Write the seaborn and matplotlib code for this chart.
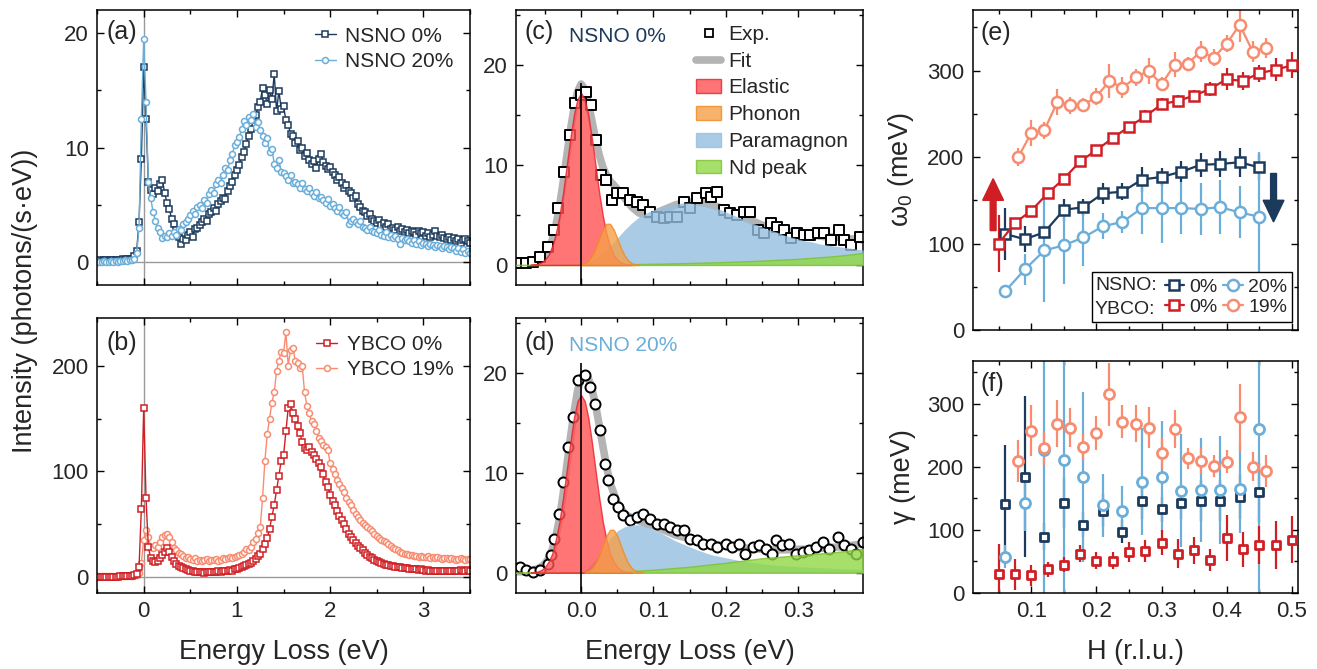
import numpy as np
import matplotlib
matplotlib.use("Agg")
import matplotlib.pyplot as plt
import seaborn as sns
from matplotlib.lines import Line2D
from matplotlib.patches import Patch, Rectangle
from matplotlib.ticker import MultipleLocator

# ---------------- colours ----------------
C_N0 = "#1b3a5c"
C_N20 = "#6aaed9"
C_Y0 = "#cf1f25"
C_Y19 = "#f88c70"
C_FIT = "#b4b4b4"
C_EL, C_PH, C_PM, C_ND = "#ff5252", "#f5a04a", "#94bfe0", "#90d844"

# ---------------- panel (a), (b): full spectra, 0.025 eV grid from -0.5 eV ----------------
E_START, E_STEP = -0.5, 0.025
nsno0 = [0.1, 0.15, 0.1, 0.2, 0.15, 0.1, 0.2, 0.15, 0.2, 0.1,
         0.2, 0.25, 0.2, 0.3, 0.25, 0.3, 0.5, 1.0, 3.5, 9.0,
         17.0, 12.5, 7.0, 6.3, 5.9, 6.5, 6.2, 6.8, 7.2, 6.0,
         5.2, 4.6, 3.8, 3.3, 2.8, 2.2, 1.6, 2.0, 1.9, 2.4,
         2.6, 2.2, 2.9, 3.0, 3.2, 3.5, 3.8, 3.6, 4.2, 4.4,
         4.7, 4.5, 5.1, 5.3, 5.6, 5.5, 6.2, 6.6, 7.0, 7.6,
         8.0, 8.5, 9.2, 9.6, 10.3, 11.0, 11.6, 12.4, 12.8, 13.5,
         14.0, 15.2, 14.6, 13.8, 15.0, 14.2, 16.4, 13.2, 14.9, 13.4,
         13.6, 12.4, 12.0, 11.2, 11.0, 10.4, 10.6, 9.8, 10.0, 9.3,
         9.5, 8.9, 8.6, 8.8, 8.2, 9.0, 9.4, 8.7, 8.4, 8.1,
         8.3, 7.9, 7.6, 7.2, 7.4, 6.9, 6.5, 6.7, 6.2, 6.0,
         5.6, 5.8, 5.1, 4.8, 4.5, 4.4, 4.0, 4.2, 3.8, 3.6,
         3.4, 3.7, 3.2, 3.4, 3.1, 3.3, 2.9, 3.0, 2.8, 3.1,
         2.7, 2.9, 2.6, 2.8, 2.5, 2.7, 2.6, 2.4, 2.7, 2.5,
         2.6, 2.3, 2.5, 2.2, 2.4, 2.7, 2.3, 2.2, 2.4, 2.1,
         2.0, 2.2, 1.9, 2.1, 1.8, 2.0, 1.7, 1.9, 2.0, 1.8,
         1.7]
nsno20 = [0.0, 0.05, 0.0, 0.1, 0.05, 0.0, 0.1, 0.05, 0.1, 0.05,
          0.1, 0.1, 0.15, 0.1, 0.2, 0.2, 0.3, 0.8, 3.0, 12.5,
          19.5, 14.0, 7.0, 5.6, 4.4, 3.6, 3.0, 2.6, 2.1, 2.3,
          2.2, 2.5, 2.3, 2.6, 2.4, 2.9, 2.8, 3.3, 3.5, 3.8,
          4.1, 4.5, 4.2, 4.8, 5.0, 4.7, 5.4, 5.2, 5.9, 6.3,
          6.0, 6.8, 7.2, 6.9, 7.6, 8.2, 8.0, 8.9, 9.4, 10.2,
          10.5, 10.9, 11.6, 12.3, 12.0, 12.7, 12.4, 12.9, 11.8, 12.2,
          11.5, 11.0, 10.4, 10.8, 9.6, 9.9, 8.6, 8.2, 8.9, 7.9,
          7.8, 7.5, 7.2, 7.6, 6.9, 7.0, 6.8, 6.5, 6.9, 6.4,
          6.2, 6.5, 6.0, 5.8, 6.1, 5.6, 5.7, 5.4, 5.2, 5.5,
          4.9, 5.1, 4.7, 4.5, 4.8, 4.3, 4.1, 4.4, 3.3, 3.6,
          3.8, 3.5, 3.3, 3.6, 3.1, 3.0, 2.8, 3.1, 2.7, 2.6,
          2.5, 2.8, 2.4, 2.3, 2.6, 2.2, 2.4, 2.1, 2.3, 2.0,
          1.6, 2.1, 1.9, 2.0, 1.8, 1.7, 1.9, 1.6, 1.8, 1.5,
          1.7, 1.6, 1.4, 1.6, 1.5, 1.3, 1.5, 1.4, 1.2, 1.4,
          1.3, 1.1, 1.3, 1.2, 1.0, 1.2, 0.9, 1.1, 0.8, 1.0,
          0.8]
ybco0 = [0.3, 0.3, 0.3, 0.3, 0.3, 0.3, 0.3, 0.3, 0.3, 0.3,
         0.5, 0.5, 0.5, 0.8, 0.8, 1.0, 1.5, 3.0, 9.0, 64.0,
         160, 75, 28, 18, 15, 14, 15, 18, 21, 24,
         27, 24, 19, 15, 12, 10, 9, 8, 7, 6.5,
         6, 5.5, 5, 4.5, 5, 4.5, 4, 4.5, 5, 4.5,
         5, 5, 5.5, 5, 6, 5.5, 6, 6.5, 6, 7,
         7, 8, 9, 10, 11, 12, 13, 15, 17, 20,
         22, 26, 31, 37, 45, 57, 68, 82, 96, 110,
         115, 138, 160, 164, 155, 150, 143, 136, 128, 122,
         120, 123, 118, 115, 112, 108, 104, 97, 90, 85,
         78, 72, 68, 62, 58, 54, 50, 45, 41, 38,
         35, 32, 29, 27, 25, 23, 21, 19, 18, 16,
         15, 14, 13, 12, 11.5, 11, 10.5, 10, 9.5, 9,
         9, 8.5, 8, 8, 7.5, 7.5, 7, 7, 6.5, 7,
         6.5, 6, 6.5, 6, 6, 5.5, 6, 6, 5.5, 6,
         6, 5.5, 6, 6, 5.5, 6, 6.5, 6, 6, 6.5,
         6]
ybco19 = [0.5, 0.5, 0.5, 0.5, 0.5, 0.5, 0.5, 0.5, 0.5, 0.5,
          0.5, 0.5, 0.5, 0.5, 1, 1, 1.5, 2, 4, 13,
          35, 44, 38, 28, 27, 30, 28, 33, 38, 40,
          41, 38, 33, 27, 25, 23, 22, 20, 18, 19,
          17, 16, 18, 15, 16, 15, 16, 17, 15, 16,
          16, 17, 15, 16, 18, 17, 18, 19, 18, 19,
          20, 21, 22, 24, 26, 25, 28, 33, 36, 42,
          47, 75, 110, 135, 150, 165, 175, 195, 205, 213,
          212, 232, 200, 215, 217, 205, 203, 198, 200, 175,
          162, 155, 148, 145, 138, 132, 129, 125, 123, 120,
          108, 102, 97, 92, 88, 84, 80, 75, 71, 68,
          63, 60, 57, 54, 51, 49, 47, 45, 43, 41,
          39, 37, 35, 34, 33, 31, 29, 27, 26, 25,
          24, 23, 22, 22, 21, 21, 20, 20, 19, 20,
          19, 19, 20, 18, 19, 18, 19, 18, 17, 18,
          18, 17, 18, 17, 16, 17, 18, 17, 16, 17,
          17]

# ---------------- panel (c): NSNO 0% fit ----------------
c_E = [-0.085, -0.076, -0.067, -0.057, -0.046, -0.037, -0.032, -0.023, -0.016, -0.009,
       0.0, 0.007, 0.014, 0.021, 0.028, 0.035, 0.042, 0.049, 0.058, 0.068,
       0.077, 0.086, 0.095, 0.105, 0.114, 0.123, 0.132, 0.142, 0.151, 0.160,
       0.172, 0.179, 0.188, 0.197, 0.206, 0.216, 0.225, 0.234, 0.244, 0.253,
       0.262, 0.271, 0.281, 0.290, 0.299, 0.308, 0.317, 0.327, 0.336, 0.345,
       0.357, 0.364, 0.373, 0.385]
c_I = [0.2, 0.2, 0.3, 0.8, 1.8, 3.5, 5.7, 9.3, 13.0, 16.2,
       17.0, 17.3, 16.0, 12.5, 9.0, 8.5, 6.5, 7.2, 7.2, 6.5,
       6.3, 6.0, 5.3, 4.8, 4.7, 4.8, 4.8, 6.3, 5.7, 6.7,
       7.2, 6.8, 7.3, 5.5, 5.2, 5.0, 5.3, 5.3, 3.5, 3.2,
       4.2, 3.8, 3.5, 2.7, 3.2, 3.0, 3.0, 3.2, 3.2, 2.5,
       3.5, 2.5, 2.0, 2.8]
fit_x = [-0.09, -0.08, -0.07, -0.06,
         -0.055, -0.05, -0.045, -0.04, -0.035, -0.03, -0.025, -0.02, -0.015, -0.01,
         -0.005, 0.0, 0.005, 0.01, 0.015, 0.02, 0.025, 0.03, 0.035, 0.04,
         0.05, 0.06, 0.07, 0.08, 0.09, 0.10, 0.11, 0.12, 0.13, 0.14,
         0.15, 0.16, 0.17, 0.18, 0.19, 0.20, 0.21, 0.22, 0.23, 0.24,
         0.25, 0.26, 0.27, 0.28, 0.29, 0.30, 0.31, 0.32, 0.33, 0.34,
         0.35, 0.36, 0.37, 0.38, 0.39]
fit_c = [0.1, 0.1, 0.2, 0.4,
         0.6, 0.9, 1.5, 2.5, 3.9, 5.8, 8.2, 10.8, 13.4, 15.6,
         17.3, 18.1, 17.6, 16.2, 14.4, 12.6, 11.0, 9.8, 9.0, 8.4,
         7.6, 6.7, 5.8, 5.2, 5.0, 5.1, 5.4, 5.7, 6.0, 6.2,
         6.3, 6.3, 6.2, 6.0, 5.8, 5.5, 5.2, 4.9, 4.6, 4.3,
         4.0, 3.8, 3.6, 3.4, 3.3, 3.2, 3.1, 3.0, 2.9, 2.8,
         2.8, 2.7, 2.6, 2.6, 2.5]
el_x = [-0.07, -0.06, -0.055, -0.05, -0.045, -0.04, -0.035, -0.03, -0.025, -0.02,
        -0.015, -0.01, -0.005, 0.0, 0.005, 0.01, 0.015, 0.02, 0.025, 0.03,
        0.035, 0.04, 0.045, 0.05, 0.055, 0.06, 0.07]
el_c = [0.02, 0.12, 0.26, 0.54, 1.0, 1.9, 3.1, 4.9, 7.2, 9.9,
        12.6, 15.0, 16.6, 17.2, 16.6, 15.0, 12.6, 9.9, 7.2, 4.9,
        3.1, 1.9, 1.0, 0.54, 0.26, 0.12, 0.02]
ph_c_x = [0.0, 0.005, 0.01, 0.015, 0.02, 0.025, 0.03, 0.035, 0.04, 0.045,
          0.05, 0.055, 0.06, 0.065, 0.07, 0.075, 0.08]
ph_c = [0.07, 0.18, 0.45, 0.94, 1.7, 2.65, 3.56, 4.12, 4.12, 3.56,
        2.65, 1.7, 0.94, 0.45, 0.18, 0.07, 0.02]
pm_c_x = [0.0, 0.01, 0.02, 0.03, 0.04, 0.05, 0.06, 0.07, 0.08, 0.09,
          0.10, 0.11, 0.12, 0.13, 0.14, 0.15, 0.16, 0.17, 0.18, 0.19,
          0.20, 0.21, 0.22, 0.23, 0.24, 0.25, 0.26, 0.27, 0.28, 0.29,
          0.30, 0.31, 0.32, 0.33, 0.34, 0.35, 0.36, 0.37, 0.38, 0.39]
pm_c = [0.0, 0.3, 0.7, 1.2, 1.9, 2.7, 3.5, 4.2, 4.8, 5.2,
        5.5, 5.8, 6.0, 6.1, 6.2, 6.2, 6.1, 6.0, 5.8, 5.6,
        5.3, 5.0, 4.7, 4.4, 4.1, 3.8, 3.5, 3.3, 3.0, 2.8,
        2.6, 2.4, 2.3, 2.1, 2.0, 1.9, 1.8, 1.7, 1.6, 1.5]
nd_x = [-0.09, 0.0, 0.05, 0.10, 0.15, 0.20, 0.25, 0.30, 0.35, 0.39]
nd_c = [0.0, 0.02, 0.06, 0.12, 0.2, 0.3, 0.44, 0.62, 0.88, 1.2]

# ---------------- panel (d): NSNO 20% fit ----------------
d_E = [-0.085, -0.076, -0.067, -0.057, -0.046, -0.041, -0.037, -0.031, -0.025, -0.018,
       -0.011, -0.004, 0.005, 0.012, 0.019, 0.026, 0.033, 0.037, 0.044, 0.051,
       0.058, 0.068, 0.077, 0.086, 0.095, 0.105, 0.114, 0.123, 0.132, 0.142,
       0.151, 0.160, 0.169, 0.179, 0.188, 0.200, 0.209, 0.218, 0.227, 0.237,
       0.246, 0.255, 0.264, 0.269, 0.278, 0.287, 0.297, 0.306, 0.315, 0.325,
       0.334, 0.343, 0.355, 0.364, 0.373, 0.380, 0.389]
d_I = [0.6, 0.3, 0.1, 0.3, 0.9, 1.8, 3.4, 5.9, 9.1, 12.6,
       15.6, 19.3, 19.8, 18.6, 16.9, 14.3, 10.9, 9.3, 7.4, 6.6,
       5.8, 5.3, 5.6, 5.9, 5.4, 4.9, 4.9, 4.6, 4.3, 4.3,
       3.4, 3.3, 2.9, 2.9, 2.6, 2.9, 2.6, 2.9, 1.9, 2.6,
       2.8, 2.4, 1.9, 3.3, 2.8, 2.9, 1.9, 2.1, 2.3, 2.6,
       3.1, 2.4, 3.6, 2.8, 2.4, 1.9, 3.1]
fit_d = [0.1, 0.1, 0.2, 0.4,
         0.6, 0.9, 1.4, 2.3, 3.6, 5.4, 7.8, 10.6, 13.4, 16.0,
         18.2, 19.5, 19.9, 19.5, 18.4, 16.8, 14.8, 12.7, 10.7, 9.0,
         7.0, 5.9, 5.5, 5.2, 4.9, 4.7, 4.4, 4.1, 3.8, 3.6,
         3.4, 3.2, 3.0, 2.9, 2.8, 2.7, 2.6, 2.5, 2.45, 2.4,
         2.35, 2.3, 2.3, 2.3, 2.3, 2.35, 2.35, 2.4, 2.45, 2.5,
         2.55, 2.6, 2.7, 2.8, 2.9]
el_d = [0.02, 0.12, 0.27, 0.56, 1.1, 1.9, 3.3, 5.1, 7.5, 10.2,
        13.0, 15.5, 17.2, 17.8, 17.2, 15.5, 13.0, 10.2, 7.5, 5.1,
        3.3, 1.9, 1.1, 0.56, 0.27, 0.12, 0.02]
ph_d_x = [0.005, 0.01, 0.015, 0.02, 0.025, 0.03, 0.035, 0.04, 0.045, 0.05,
          0.055, 0.06, 0.065, 0.07, 0.075, 0.08, 0.085]
ph_d = [0.07, 0.18, 0.46, 0.97, 1.75, 2.7, 3.7, 4.3, 4.3, 3.7,
        2.7, 1.75, 0.97, 0.46, 0.18, 0.07, 0.02]
pm_d_x = [0.0, 0.01, 0.02, 0.03, 0.04, 0.05, 0.06, 0.07, 0.08, 0.09,
          0.10, 0.11, 0.12, 0.13, 0.14, 0.15, 0.16, 0.18, 0.20, 0.22,
          0.24, 0.26, 0.28, 0.30, 0.33, 0.36, 0.39]
pm_d = [0.0, 0.5, 1.3, 2.3, 3.4, 4.2, 4.6, 4.8, 4.8, 4.6,
        4.3, 4.0, 3.6, 3.2, 2.9, 2.6, 2.3, 1.8, 1.5, 1.2,
        1.0, 0.8, 0.7, 0.6, 0.5, 0.4, 0.35]
nd_d = [0.0, 0.02, 0.1, 0.3, 0.6, 1.0, 1.45, 1.75, 2.05, 2.4]

# ---------------- panels (e), (f): fitted parameters vs H ----------------
H_nsno = [0.06, 0.09, 0.12, 0.15, 0.18, 0.21, 0.24, 0.27, 0.30, 0.33, 0.36, 0.39, 0.42, 0.45]
w_n0 = [111, 105, 113, 139, 142, 158, 160, 174, 177, 183, 191, 192, 194, 188]
w_n0_err = [30, 15, 8, 13, 10, 12, 10, 14, 10, 12, 14, 15, 17, 15]
w_n20 = [45, 70, 92, 98, 107, 120, 125, 141, 141, 141, 140, 142, 136, 131]
w_n20_err = [6, 18, 60, 45, 33, 15, 13, 30, 40, 30, 30, 31, 30, 75]
g_n0 = [140, 184, 89, 142, 108, 130, 97, 146, 132, 142, 146, 146, 152, 159]
g_n0_err = [95, 128, 21, 40, 20, 26, 18, 29, 20, 25, 33, 33, 35, 47]
g_n20 = [57, 143, 227, 211, 183, 139, 130, 176, 184, 162, 163, 163, 164, 259]
g_n20_err = [18, 45, 250, 230, 135, 50, 40, 85, 88, 90, 82, 85, 70, 260]

H_y0 = [0.05, 0.075, 0.10, 0.125, 0.15, 0.175, 0.20, 0.225, 0.25, 0.275,
        0.30, 0.325, 0.35, 0.375, 0.40, 0.425, 0.45, 0.475, 0.50]
w_y0 = [100, 124, 138, 158, 175, 195, 208, 222, 235, 247, 261, 265, 271, 279, 290, 288, 297, 301, 306]
w_y0_err = [33, 5, 5, 5, 5, 5, 6, 6, 6, 7, 7, 7, 7, 8, 13, 10, 10, 13, 15]
g_y0 = [29, 29, 27.5, 37, 44, 62, 51, 51, 64, 66, 79, 62, 67, 52, 87, 69, 76, 76, 84]
g_y0_err = [48, 24, 17, 12, 12, 14, 14, 14, 16, 17, 20, 23, 22, 18, 36, 28, 30, 38, 37]

H_y19 = [0.08, 0.10, 0.12, 0.14, 0.16, 0.18, 0.20, 0.22, 0.24, 0.26,
         0.28, 0.30, 0.32, 0.34, 0.36, 0.38, 0.40, 0.42, 0.44, 0.46]
w_y19 = [200, 228, 231, 264, 260, 260, 270, 288, 280, 292, 300, 284, 307, 308, 322, 315, 331, 353, 322, 326]
w_y19_err = [10, 15, 10, 15, 10, 8, 10, 20, 12, 10, 15, 8, 15, 8, 12, 10, 10, 20, 12, 12]
g_y19 = [209, 257, 229, 268, 262, 231, 253, 315, 271, 268, 262, 221, 260, 213, 209, 201, 208, 278, 200, 193]
g_y19_err = [33, 40, 26, 37, 31, 21, 27, 50, 26, 29, 33, 24, 30, 17, 20, 17, 18, 53, 23, 26]

# ---------------- style ----------------
sns.set_theme(style="ticks")
plt.rcParams["font.family"] = ["Liberation Sans", "DejaVu Sans"]
plt.rcParams["mathtext.fontset"] = "custom"
plt.rcParams["mathtext.rm"] = "Liberation Sans"
plt.rcParams["mathtext.it"] = "Liberation Sans:italic"
TICK_FS, LEG_FS, LAB_FS, PAN_FS = 16, 15, 19.5, 18

fig = plt.figure(figsize=(13.17, 6.69), dpi=100)
ax_a = fig.add_axes([0.0737, 0.574, 0.2832, 0.411])
ax_b = fig.add_axes([0.0737, 0.1141, 0.2832, 0.4101])
ax_c = fig.add_axes([0.3918, 0.574, 0.2637, 0.411])
ax_d = fig.add_axes([0.3918, 0.1141, 0.2637, 0.4101])
ax_e = fig.add_axes([0.7386, 0.5067, 0.2472, 0.4783])
ax_f = fig.add_axes([0.7386, 0.1141, 0.2472, 0.3467])


def style(ax):
    ax.tick_params(which="both", direction="in", top=True, right=True,
                   width=1, labelsize=TICK_FS, pad=6, color="black")
    ax.tick_params(which="major", length=5)
    ax.tick_params(which="minor", length=3)
    for s in ax.spines.values():
        s.set_linewidth(1.1)
        s.set_color("black")


def panel_label(ax, txt, y):
    ax.text(0.025, y, txt, transform=ax.transAxes, fontsize=PAN_FS, va="top", ha="left")


# ---- (a) and (b)
for ax, s1, s2 in [(ax_a, (nsno0, C_N0, "s", "NSNO 0%"), (nsno20, C_N20, "o", "NSNO 20%")),
                   (ax_b, (ybco19, C_Y19, "o", "YBCO 19%"), (ybco0, C_Y0, "s", "YBCO 0%"))]:
    ax.axhline(0, color="#9a9a9a", lw=1, zorder=0)
    ax.axvline(0, color="#9a9a9a", lw=1, zorder=0)
    for vals, col, mk, lab in (s1, s2):
        E = E_START + E_STEP * np.arange(len(vals))
        sns.lineplot(x=E, y=vals, ax=ax, color=col, marker=mk, markersize=4.3 if mk == "o" else 4.0,
                     markerfacecolor="white", markeredgecolor=col, markeredgewidth=1.1,
                     linewidth=1.0, label=lab, sort=False, estimator=None, errorbar=None)
    ax.set_xlim(-0.5, 3.5)
    ax.xaxis.set_major_locator(MultipleLocator(1))
    ax.xaxis.set_minor_locator(MultipleLocator(0.5))
    style(ax)
    ax.set_ylabel("")

ax_a.set_ylim(-2, 22)
ax_a.yaxis.set_major_locator(MultipleLocator(10))
ax_a.yaxis.set_minor_locator(MultipleLocator(5))
ax_a.tick_params(labelbottom=False)
ax_b.set_ylim(-15, 245)
ax_b.yaxis.set_major_locator(MultipleLocator(100))
ax_b.yaxis.set_minor_locator(MultipleLocator(50))
ax_b.set_xlabel("Energy Loss (eV)", fontsize=LAB_FS, labelpad=12)

for ax, order in [(ax_a, [0, 1]), (ax_b, [1, 0])]:
    h, l = ax.get_legend_handles_labels()
    ax.legend([h[i] for i in order], [l[i] for i in order], loc="upper right",
              bbox_to_anchor=(1.0, 1.0), frameon=False, fontsize=LEG_FS,
              handlelength=1.0, handletextpad=0.45, labelspacing=0.3, borderaxespad=0.4)
panel_label(ax_a, "(a)", 0.965)
panel_label(ax_b, "(b)", 0.955)
fig.text(0.019, 0.55, "Intensity (photons/(s\u00b7eV))", rotation=90, ha="center", va="center",
         fontsize=LAB_FS)

# ---- (c) and (d)
for ax, E, I, mk, fit, el, phx, ph, pmx, pm, nd, vtop in [
        (ax_c, c_E, c_I, "s", fit_c, el_c, ph_c_x, ph_c, pm_c_x, pm_c, nd_c, 18.2),
        (ax_d, d_E, d_I, "o", fit_d, el_d, ph_d_x, ph_d, pm_d_x, pm_d, nd_d, 21.0)]:
    sns.lineplot(x=fit_x, y=fit, ax=ax, color=C_FIT, linewidth=5.5, sort=False,
                 estimator=None, errorbar=None, zorder=1, solid_capstyle="round")
    sns.scatterplot(x=E, y=I, ax=ax, marker=mk, s=42 if mk == "s" else 52, color="white",
                    edgecolor="black", linewidth=1.4, zorder=2)
    ax.fill_between(pmx, pm, 0, color=C_PM, alpha=0.8, lw=0, zorder=3)
    ax.fill_between(nd_x, nd, 0, color=C_ND, alpha=0.8, lw=1, edgecolor="#7cc030", zorder=3.1)
    ax.fill_between(el_x, el, 0, color=C_EL, alpha=0.8, lw=1, edgecolor="#e8202a", zorder=3.2)
    ax.fill_between(phx, ph, 0, color=C_PH, alpha=0.8, lw=1, edgecolor="#f08a20", zorder=3.3)
    ax.vlines(0, -2, vtop, color="black", lw=1.2, zorder=4)
    ax.set_xlim(-0.09, 0.39)
    ax.set_ylim(-2, 25.5)
    ax.xaxis.set_major_locator(MultipleLocator(0.1))
    ax.xaxis.set_minor_locator(MultipleLocator(0.05))
    ax.yaxis.set_major_locator(MultipleLocator(10))
    ax.yaxis.set_minor_locator(MultipleLocator(5))
    style(ax)
    ax.set_ylabel("")

ax_c.tick_params(labelbottom=False)
ax_d.set_xlabel("Energy Loss (eV)", fontsize=LAB_FS, labelpad=12)
panel_label(ax_c, "(c)", 0.965)
panel_label(ax_d, "(d)", 0.955)
ax_c.text(0.153, 0.905, "NSNO 0%", transform=ax_c.transAxes, color=C_N0, fontsize=LEG_FS,
          va="center")
ax_d.text(0.153, 0.9, "NSNO 20%", transform=ax_d.transAxes, color=C_N20, fontsize=LEG_FS,
          va="center")
c_handles = [Line2D([], [], marker="s", ls="none", mfc="white", mec="black", mew=1.3, ms=6),
             Line2D([], [], color=C_FIT, lw=5.5, solid_capstyle="round"),
             Patch(facecolor=C_EL, alpha=0.8, edgecolor="#e8202a"),
             Patch(facecolor=C_PH, alpha=0.8, edgecolor="#f08a20"),
             Patch(facecolor=C_PM, alpha=0.8, edgecolor=C_PM),
             Patch(facecolor=C_ND, alpha=0.8, edgecolor="#7cc030")]
ax_c.legend(c_handles, ["Exp.", "Fit", "Elastic", "Phonon", "Paramagnon", "Nd peak"],
            loc="upper right", bbox_to_anchor=(1.0, 1.0), frameon=False, fontsize=LEG_FS,
            handlelength=1.2, handleheight=0.6, handletextpad=0.35, labelspacing=0.38,
            borderaxespad=0.3)

# ---- (e)
series = [(H_nsno, w_n0, w_n0_err, g_n0, g_n0_err, C_N0, "s"),
          (H_nsno, w_n20, w_n20_err, g_n20, g_n20_err, C_N20, "o"),
          (H_y0, w_y0, w_y0_err, g_y0, g_y0_err, C_Y0, "s"),
          (H_y19, w_y19, w_y19_err, g_y19, g_y19_err, C_Y19, "o")]
for H, w, we, g, ge, col, mk in series:
    ax_e.errorbar(H, w, yerr=we, fmt="none", ecolor=col, elinewidth=1.6, capsize=0, zorder=2)
    sns.lineplot(x=H, y=w, ax=ax_e, color=col, marker=mk, markersize=8 if mk == "o" else 7.5,
                 markerfacecolor="white", markeredgecolor=col, markeredgewidth=1.8,
                 linewidth=1.6, sort=False, estimator=None, errorbar=None, zorder=3)
    ax_f.errorbar(H, g, yerr=ge, fmt="none", ecolor=col, elinewidth=1.6, capsize=0, zorder=2)
    sns.scatterplot(x=H, y=g, ax=ax_f, marker=mk, s=52 if mk == "o" else 40, color="white",
                    edgecolor=col, linewidth=2.0, zorder=3)

ax_e.arrow(0.0413, 115, 0, 60, width=0.009, head_width=0.032, head_length=25,
           length_includes_head=True, color=C_Y0, zorder=4)
ax_e.arrow(0.472, 181, 0, -56, width=0.009, head_width=0.032, head_length=25,
           length_includes_head=True, color=C_N0, zorder=4)

for ax in (ax_e, ax_f):
    ax.set_xlim(0.01, 0.51)
    ax.set_ylim(0, 370)
    ax.xaxis.set_major_locator(MultipleLocator(0.1))
    ax.xaxis.set_minor_locator(MultipleLocator(0.05))
    ax.yaxis.set_major_locator(MultipleLocator(100))
    ax.yaxis.set_minor_locator(MultipleLocator(50))
    style(ax)
ax_f.set_ylim(0, 368)
ax_e.tick_params(labelbottom=False)
ax_e.set_ylabel(r"$\mathregular{\omega_0}$ (meV)", fontsize=LAB_FS, labelpad=8)
ax_f.set_ylabel("\u03b3 (meV)", fontsize=LAB_FS, labelpad=8)
ax_f.set_xlabel("H (r.l.u.)", fontsize=LAB_FS, labelpad=12)
panel_label(ax_e, "(e)", 0.965)
panel_label(ax_f, "(f)", 0.95)

# legend box of (e)
E_LEG_FS = 14
ax_e.add_patch(Rectangle((0.365, 0.026), 0.615, 0.156, transform=ax_e.transAxes,
                         facecolor="white", edgecolor="black", lw=1.0, zorder=5))
ax_e.text(0.3756, 0.1406, "NSNO:", transform=ax_e.transAxes, fontsize=E_LEG_FS, va="center", zorder=6)
ax_e.text(0.3756, 0.0656, "YBCO:", transform=ax_e.transAxes, fontsize=E_LEG_FS, va="center", zorder=6)
e_handles = [Line2D([], [], color=c, marker=m, ms=8 if m == "o" else 7.5, mfc="white", mec=c,
                    mew=1.8, lw=1.6)
             for c, m in [(C_N0, "s"), (C_Y0, "s"), (C_N20, "o"), (C_Y19, "o")]]
leg = ax_e.legend(e_handles, ["0%", "0%", "20%", "19%"], ncol=2, loc="center right",
                  bbox_to_anchor=(0.966, 0.103), frameon=False, fontsize=E_LEG_FS,
                  handlelength=1.0, handletextpad=0.27, columnspacing=0.3, labelspacing=0.12,
                  borderaxespad=0.0, borderpad=0.0)
leg.set_zorder(7)

fig.savefig("out.png", dpi=100)
